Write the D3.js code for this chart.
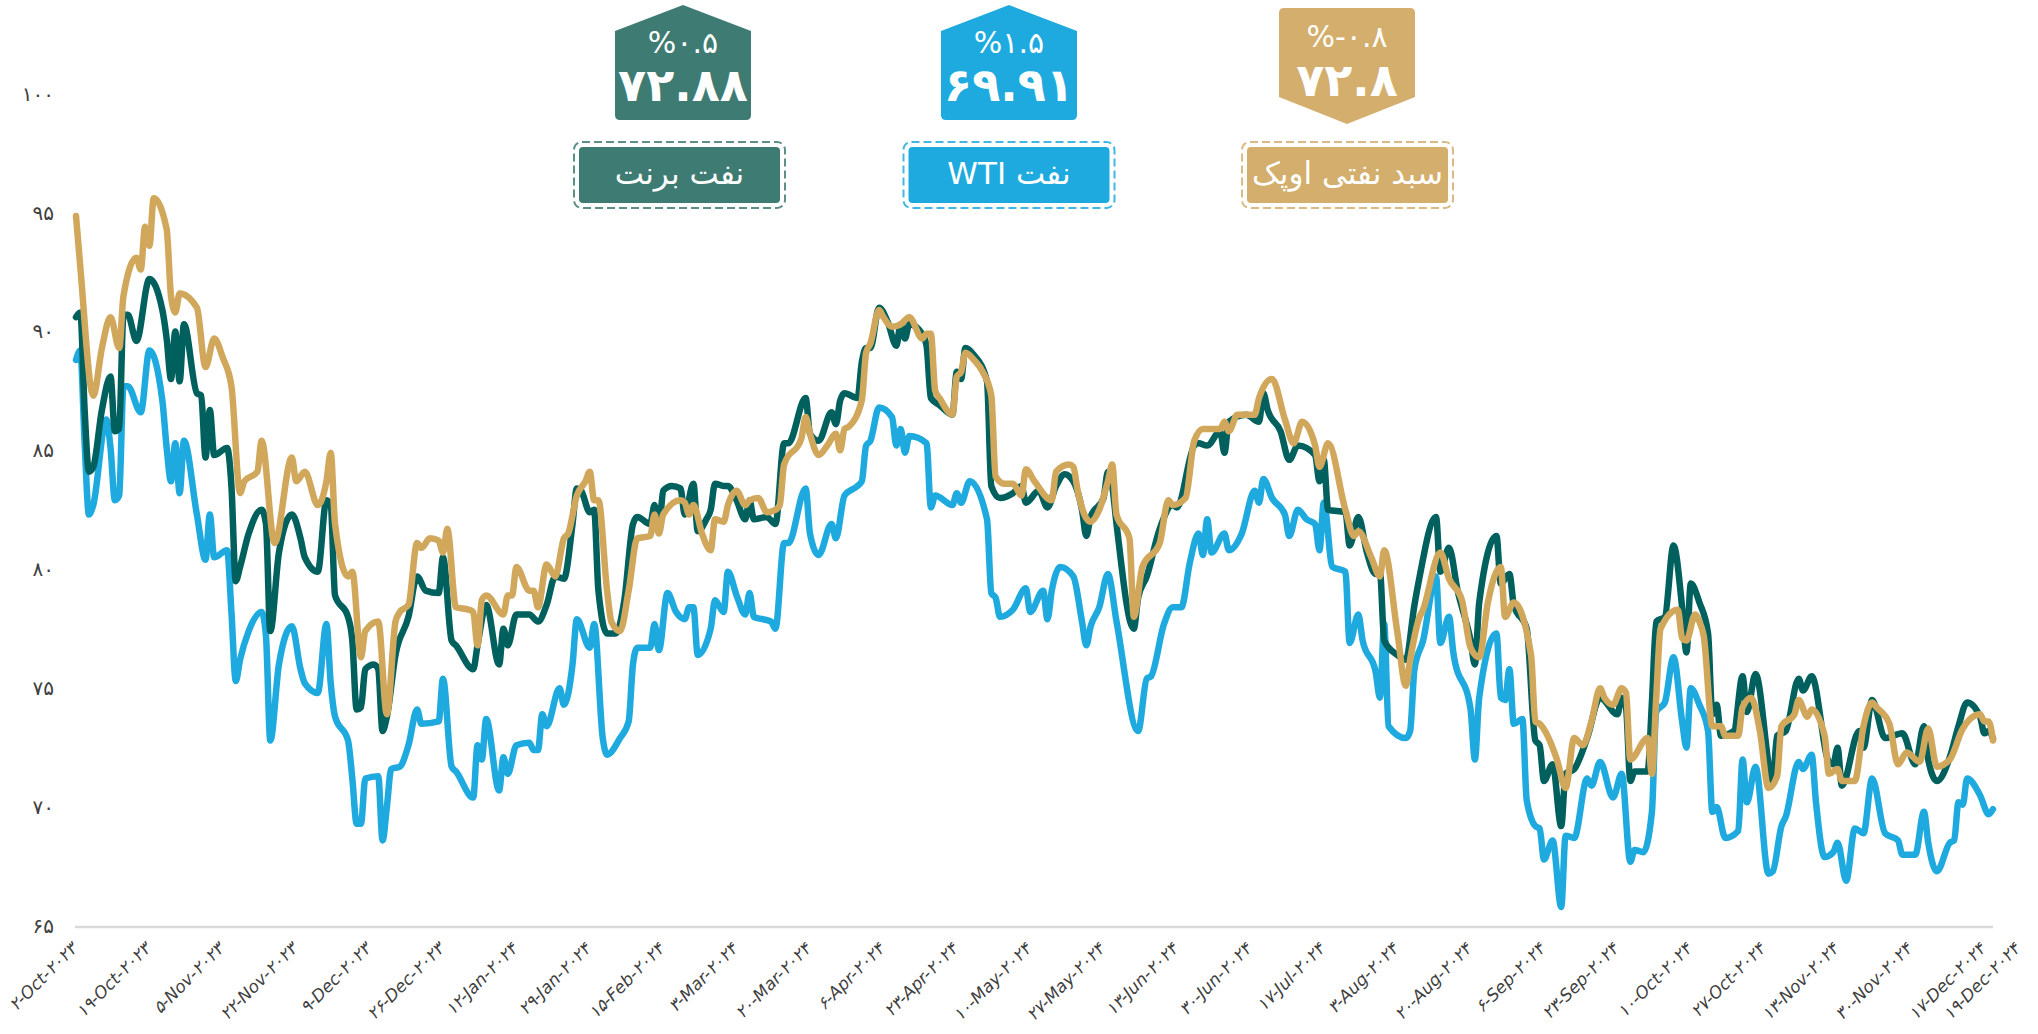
<!DOCTYPE html>
<html lang="fa">
<head>
<meta charset="utf-8">
<title>Oil prices</title>
<script src="https://cdn.jsdelivr.net/npm/d3@7"></script>
<style>
  html, body { margin: 0; padding: 0; background: #fff; }
  svg { display: block; font-family: 'DejaVu Sans', sans-serif; }
</style>
</head>
<body>
<div id="chart"></div>
<script>
(function(d3) {
  'use strict';

  // daily prices, [date, price]
  var brent = [
    ["2023-10-02",90.6],["2023-10-03",90.8],["2023-10-04",86.7],["2023-10-05",84.1],["2023-10-06",84.3],["2023-10-08",86.7],["2023-10-10",88.1],["2023-10-11",85.8],["2023-10-12",85.9],["2023-10-13",90.7],["2023-10-14",90.7],["2023-10-16",89.6],["2023-10-19",92.2],["2023-10-22",90.9],["2023-10-23",89.7],["2023-10-24",88.0],["2023-10-25",90.0],["2023-10-26",87.9],["2023-10-27",90.3],["2023-10-30",87.4],["2023-10-31",87.3],
    ["2023-11-01",84.7],["2023-11-02",86.7],["2023-11-03",84.8],["2023-11-06",85.1],["2023-11-07",83.5],["2023-11-08",79.5],["2023-11-09",80.1],["2023-11-11",81.5],["2023-11-14",82.5],["2023-11-15",81.9],["2023-11-16",77.4],["2023-11-18",80.7],["2023-11-21",82.3],["2023-11-23",81.3],["2023-11-24",80.5],["2023-11-27",79.9],["2023-11-29",82.9],["2023-11-30",82.7],
    ["2023-12-01",78.9],["2023-12-04",78.0],["2023-12-05",77.0],["2023-12-06",74.1],["2023-12-07",74.2],["2023-12-08",75.8],["2023-12-10",76.0],["2023-12-11",75.8],["2023-12-12",73.2],["2023-12-13",73.8],["2023-12-15",76.4],["2023-12-18",78.0],["2023-12-20",79.7],["2023-12-22",79.1],["2023-12-25",79.0],["2023-12-26",80.5],["2023-12-28",77.0],["2023-12-29",76.8],
    ["2024-01-02",75.8],["2024-01-03",76.8],["2024-01-05",78.5],["2024-01-08",76.0],["2024-01-09",77.5],["2024-01-10",76.8],["2024-01-12",78.1],["2024-01-15",78.1],["2024-01-17",77.8],["2024-01-19",78.5],["2024-01-21",79.7],["2024-01-23",79.6],["2024-01-25",81.9],["2024-01-26",83.4],["2024-01-27",83.3],["2024-01-29",82.4],["2024-01-30",82.5],["2024-01-31",79.1],
    ["2024-02-02",77.3],["2024-02-04",77.3],["2024-02-06",78.7],["2024-02-08",81.9],["2024-02-09",82.2],["2024-02-12",81.9],["2024-02-13",82.7],["2024-02-14",81.6],["2024-02-15",83.3],["2024-02-17",83.5],["2024-02-19",83.4],["2024-02-20",82.3],["2024-02-22",83.6],["2024-02-23",81.6],["2024-02-25",82.1],["2024-02-26",82.5],["2024-02-27",83.6],["2024-02-29",83.5],
    ["2024-03-01",83.5],["2024-03-03",82.9],["2024-03-05",82.1],["2024-03-06",82.9],["2024-03-07",82.1],["2024-03-10",82.2],["2024-03-12",81.9],["2024-03-14",85.3],["2024-03-15",85.3],["2024-03-19",87.2],["2024-03-20",85.7],["2024-03-22",85.4],["2024-03-25",86.6],["2024-03-26",86.1],["2024-03-27",87.1],["2024-03-28",87.4],["2024-03-31",87.2],
    ["2024-04-01",88.7],["2024-04-02",89.3],["2024-04-03",89.3],["2024-04-05",91.0],["2024-04-07",90.4],["2024-04-09",89.4],["2024-04-10",90.3],["2024-04-11",89.7],["2024-04-12",90.3],["2024-04-15",89.9],["2024-04-16",89.4],["2024-04-17",87.2],["2024-04-19",86.9],["2024-04-22",86.5],["2024-04-23",88.3],["2024-04-24",88.0],["2024-04-25",89.3],["2024-04-27",89.0],["2024-04-30",87.9],
    ["2024-05-01",83.5],["2024-05-03",83.0],["2024-05-06",83.2],["2024-05-08",83.5],["2024-05-09",82.8],["2024-05-12",83.3],["2024-05-14",82.6],["2024-05-16",83.5],["2024-05-18",84.0],["2024-05-20",83.7],["2024-05-22",82.5],["2024-05-23",81.4],["2024-05-24",82.2],["2024-05-27",83.0],["2024-05-28",84.1],["2024-05-29",83.5],["2024-05-30",81.9],
    ["2024-06-03",77.5],["2024-06-04",78.8],["2024-06-06",79.7],["2024-06-09",81.7],["2024-06-12",82.7],["2024-06-13",82.6],["2024-06-17",85.2],["2024-06-18",85.3],["2024-06-20",85.2],["2024-06-23",85.8],["2024-06-24",84.9],["2024-06-25",86.2],["2024-06-29",86.5],
    ["2024-07-02",86.2],["2024-07-03",87.4],["2024-07-04",86.7],["2024-07-07",85.8],["2024-07-09",84.6],["2024-07-11",85.2],["2024-07-15",84.8],["2024-07-16",83.7],["2024-07-17",84.6],["2024-07-18",82.5],["2024-07-22",82.4],["2024-07-23",81.0],["2024-07-25",82.2],["2024-07-27",80.7],["2024-07-29",79.8],["2024-07-30",79.9],["2024-07-31",77.0],
    ["2024-08-03",76.4],["2024-08-05",76.2],["2024-08-07",78.5],["2024-08-08",79.5],["2024-08-12",82.2],["2024-08-13",79.9],["2024-08-15",80.9],["2024-08-17",79.1],["2024-08-20",77.0],["2024-08-21",76.0],["2024-08-22",78.6],["2024-08-26",81.4],["2024-08-27",79.4],["2024-08-29",79.8],["2024-08-30",78.5],
    ["2024-09-02",77.5],["2024-09-04",72.8],["2024-09-05",72.6],["2024-09-06",71.1],["2024-09-08",71.8],["2024-09-10",69.2],["2024-09-11",71.4],["2024-09-13",71.6],["2024-09-16",72.9],["2024-09-19",74.6],["2024-09-23",73.9],["2024-09-24",74.6],["2024-09-25",74.2],["2024-09-26",71.1],["2024-09-27",71.5],["2024-09-30",71.5],
    ["2024-10-01",74.4],["2024-10-02",77.8],["2024-10-04",78.0],["2024-10-06",81.0],["2024-10-08",78.4],["2024-10-09",76.5],["2024-10-10",79.4],["2024-10-12",78.6],["2024-10-14",77.3],["2024-10-15",73.9],["2024-10-16",74.3],["2024-10-17",73.0],["2024-10-20",73.2],["2024-10-22",75.5],["2024-10-23",74.0],["2024-10-25",75.6],["2024-10-29",71.1],["2024-10-30",73.0],
    ["2024-11-01",73.2],["2024-11-04",75.4],["2024-11-05",74.9],["2024-11-07",75.5],["2024-11-11",71.9],["2024-11-12",71.8],["2024-11-13",72.5],["2024-11-14",70.9],["2024-11-18",73.2],["2024-11-19",72.5],["2024-11-21",74.5],["2024-11-24",72.9],["2024-11-28",73.1],
    ["2024-12-01",71.8],["2024-12-03",73.4],["2024-12-04",72.0],["2024-12-06",71.1],["2024-12-09",72.1],["2024-12-11",73.4],["2024-12-13",74.4],["2024-12-16",73.8],["2024-12-17",73.1],["2024-12-18",73.2],["2024-12-19",72.88]
  ];

  var wti = [
    ["2023-10-02",88.8],["2023-10-03",89.2],["2023-10-04",85.3],["2023-10-05",82.3],["2023-10-06",82.7],["2023-10-09",86.3],["2023-10-10",85.1],["2023-10-11",82.9],["2023-10-12",83.1],["2023-10-13",87.7],["2023-10-14",87.7],["2023-10-17",86.6],["2023-10-19",89.2],["2023-10-22",87.1],["2023-10-23",85.1],["2023-10-24",83.7],["2023-10-25",85.3],["2023-10-26",83.2],["2023-10-27",85.4],["2023-10-30",82.3],
    ["2023-11-01",80.4],["2023-11-02",82.3],["2023-11-03",80.5],["2023-11-06",80.8],["2023-11-07",78.2],["2023-11-08",75.3],["2023-11-09",76.2],["2023-11-11",77.4],["2023-11-14",78.2],["2023-11-15",77.2],["2023-11-16",72.8],["2023-11-18",76.0],["2023-11-21",77.6],["2023-11-23",75.8],["2023-11-24",75.2],["2023-11-27",74.8],["2023-11-29",77.7],["2023-11-30",75.2],
    ["2023-12-01",73.8],["2023-12-04",72.8],["2023-12-05",71.2],["2023-12-06",69.3],["2023-12-07",69.3],["2023-12-08",71.2],["2023-12-11",71.3],["2023-12-12",68.6],["2023-12-13",70.0],["2023-12-14",71.6],["2023-12-16",71.7],["2023-12-18",72.6],["2023-12-20",74.1],["2023-12-21",73.5],["2023-12-25",73.6],["2023-12-26",75.4],["2023-12-28",71.7],["2023-12-29",71.5],
    ["2024-01-02",70.4],["2024-01-03",72.6],["2024-01-04",72.0],["2024-01-05",73.7],["2024-01-08",70.7],["2024-01-09",72.1],["2024-01-10",71.4],["2024-01-12",72.6],["2024-01-15",72.7],["2024-01-16",72.4],["2024-01-17",72.4],["2024-01-18",73.9],["2024-01-19",73.4],["2024-01-22",75.0],["2024-01-23",74.3],["2024-01-25",76.0],["2024-01-26",77.9],["2024-01-29",76.7],["2024-01-30",77.7],
    ["2024-02-01",72.9],["2024-02-02",72.2],["2024-02-05",72.9],["2024-02-07",73.6],["2024-02-08",76.0],["2024-02-09",76.7],["2024-02-12",76.7],["2024-02-13",77.7],["2024-02-14",76.6],["2024-02-16",79.0],["2024-02-18",78.2],["2024-02-20",77.9],["2024-02-21",78.4],["2024-02-22",78.4],["2024-02-23",76.4],["2024-02-26",77.5],["2024-02-27",78.7],["2024-02-29",78.2],
    ["2024-03-01",79.9],["2024-03-03",78.9],["2024-03-05",78.1],["2024-03-06",79.0],["2024-03-07",78.0],["2024-03-09",77.9],["2024-03-11",77.8],["2024-03-12",77.5],["2024-03-14",81.1],["2024-03-15",81.1],["2024-03-19",83.4],["2024-03-20",81.5],["2024-03-22",80.6],["2024-03-25",81.9],["2024-03-26",81.3],["2024-03-28",83.1],["2024-03-31",83.5],
    ["2024-04-01",83.7],["2024-04-02",85.2],["2024-04-03",85.4],["2024-04-05",86.8],["2024-04-08",86.4],["2024-04-09",85.2],["2024-04-10",85.9],["2024-04-11",84.9],["2024-04-12",85.6],["2024-04-16",85.3],["2024-04-17",82.6],["2024-04-18",83.1],["2024-04-22",82.7],["2024-04-23",83.2],["2024-04-24",82.8],["2024-04-26",83.7],["2024-04-30",82.1],
    ["2024-05-01",79.0],["2024-05-02",78.8],["2024-05-03",78.0],["2024-05-06",78.3],["2024-05-09",79.2],["2024-05-10",78.2],["2024-05-13",79.1],["2024-05-14",77.9],["2024-05-15",79.1],["2024-05-17",80.1],["2024-05-20",79.7],["2024-05-22",77.8],["2024-05-23",76.8],["2024-05-24",77.6],["2024-05-26",78.4],["2024-05-28",79.8],["2024-05-30",77.8],
    ["2024-06-04",73.2],["2024-06-06",75.4],["2024-06-07",75.5],["2024-06-10",77.7],["2024-06-12",78.4],["2024-06-14",78.4],["2024-06-16",80.3],["2024-06-18",81.5],["2024-06-19",80.6],["2024-06-20",82.1],["2024-06-21",80.7],["2024-06-24",81.5],["2024-06-25",80.8],["2024-06-28",81.5],
    ["2024-07-01",83.3],["2024-07-02",82.8],["2024-07-03",83.8],["2024-07-05",83.0],["2024-07-08",82.3],["2024-07-09",81.4],["2024-07-11",82.5],["2024-07-13",82.1],["2024-07-15",81.9],["2024-07-16",80.8],["2024-07-17",82.8],["2024-07-19",80.1],["2024-07-22",79.9],["2024-07-23",76.9],["2024-07-25",78.1],["2024-07-26",77.0],["2024-07-29",75.7],["2024-07-30",74.6],["2024-07-31",77.7],
    ["2024-08-01",73.4],["2024-08-05",72.9],["2024-08-06",73.2],["2024-08-07",75.8],["2024-08-09",77.0],["2024-08-12",79.7],["2024-08-13",76.9],["2024-08-15",78.0],["2024-08-16",76.5],["2024-08-20",74.1],["2024-08-21",72.0],["2024-08-22",74.6],["2024-08-26",77.3],["2024-08-27",74.6],["2024-08-28",74.5],["2024-08-29",75.8],["2024-08-30",73.5],
    ["2024-09-01",73.7],["2024-09-02",70.3],["2024-09-04",69.2],["2024-09-05",69.1],["2024-09-06",67.8],["2024-09-08",68.6],["2024-09-10",65.8],["2024-09-11",68.8],["2024-09-13",68.7],["2024-09-16",71.2],["2024-09-17",70.9],["2024-09-19",71.9],["2024-09-22",70.4],["2024-09-24",71.4],["2024-09-26",67.7],["2024-09-27",68.2],["2024-09-29",68.1],
    ["2024-10-01",69.8],["2024-10-02",74.0],["2024-10-04",74.4],["2024-10-06",76.3],["2024-10-08",73.6],["2024-10-09",72.5],["2024-10-10",75.0],["2024-10-12",74.3],["2024-10-14",73.2],["2024-10-15",69.8],["2024-10-16",70.0],["2024-10-18",68.7],["2024-10-21",69.0],["2024-10-22",72.0],["2024-10-23",70.2],["2024-10-25",71.7],["2024-10-28",67.2],["2024-10-29",67.3],["2024-10-31",69.2],
    ["2024-11-01",69.6],["2024-11-04",71.9],["2024-11-05",71.6],["2024-11-07",72.2],["2024-11-08",70.2],["2024-11-10",67.9],["2024-11-12",68.1],["2024-11-13",68.5],["2024-11-15",66.9],["2024-11-17",69.1],["2024-11-19",68.9],["2024-11-21",71.2],["2024-11-24",68.9],["2024-11-27",68.6],["2024-11-28",68.0],
    ["2024-12-01",68.0],["2024-12-03",69.8],["2024-12-04",68.5],["2024-12-06",67.3],["2024-12-09",68.5],["2024-12-10",68.6],["2024-12-11",70.2],["2024-12-12",70.1],["2024-12-13",71.2],["2024-12-16",70.5],["2024-12-18",69.7],["2024-12-19",69.91]
  ];

  var opec = [
    ["2023-10-02",94.85],["2023-10-03",92.7],["2023-10-06",87.3],["2023-10-08",89.3],["2023-10-10",90.6],["2023-10-12",89.3],["2023-10-13",91.5],["2023-10-16",93.1],["2023-10-17",92.6],["2023-10-18",94.4],["2023-10-19",93.6],["2023-10-20",95.6],["2023-10-23",94.3],["2023-10-24",91.5],["2023-10-25",90.8],["2023-10-26",91.6],["2023-10-30",91.0],
    ["2023-11-01",88.5],["2023-11-03",89.7],["2023-11-05",88.9],["2023-11-07",87.7],["2023-11-09",83.2],["2023-11-10",83.7],["2023-11-13",84.1],["2023-11-14",85.4],["2023-11-17",81.1],["2023-11-21",84.7],["2023-11-22",83.7],["2023-11-24",84.1],["2023-11-27",82.7],["2023-11-29",83.7],["2023-11-30",84.9],
    ["2023-12-01",81.9],["2023-12-04",79.7],["2023-12-05",79.9],["2023-12-07",76.3],["2023-12-08",77.4],["2023-12-11",77.8],["2023-12-13",73.9],["2023-12-15",77.8],["2023-12-16",78.2],["2023-12-18",78.5],["2023-12-20",81.1],["2023-12-21",80.9],["2023-12-23",81.3],["2023-12-25",81.2],["2023-12-26",80.7],["2023-12-27",81.7],["2023-12-29",78.4],
    ["2024-01-01",78.3],["2024-01-02",78.2],["2024-01-03",76.8],["2024-01-04",78.7],["2024-01-05",78.9],["2024-01-09",78.1],["2024-01-10",78.9],["2024-01-11",78.9],["2024-01-12",80.1],["2024-01-15",79.1],["2024-01-16",79.1],["2024-01-17",78.4],["2024-01-19",80.2],["2024-01-21",79.7],["2024-01-23",81.3],["2024-01-24",81.5],["2024-01-26",83.1],["2024-01-28",83.7],["2024-01-29",84.1],["2024-01-30",82.9],["2024-01-31",82.9],
    ["2024-02-02",79.1],["2024-02-03",77.8],["2024-02-05",77.4],["2024-02-07",79.1],["2024-02-09",81.3],["2024-02-12",81.4],["2024-02-13",82.3],["2024-02-14",81.5],["2024-02-15",82.3],["2024-02-19",82.9],["2024-02-20",82.8],["2024-02-21",82.3],["2024-02-22",82.7],["2024-02-24",81.5],["2024-02-26",80.8],["2024-02-27",82.1],["2024-02-29",82.0],
    ["2024-03-01",82.7],["2024-03-03",83.3],["2024-03-05",82.7],["2024-03-06",82.9],["2024-03-08",83.0],["2024-03-10",82.4],["2024-03-12",82.5],["2024-03-13",82.7],["2024-03-14",84.4],["2024-03-18",85.5],["2024-03-19",86.4],["2024-03-20",85.7],["2024-03-22",84.8],["2024-03-24",85.2],["2024-03-26",85.7],["2024-03-27",85.0],["2024-03-28",85.9],["2024-03-29",86.0],
    ["2024-04-01",87.1],["2024-04-02",89.1],["2024-04-03",89.5],["2024-04-05",90.9],["2024-04-06",90.6],["2024-04-08",90.2],["2024-04-10",90.3],["2024-04-12",90.6],["2024-04-15",89.7],["2024-04-16",89.9],["2024-04-17",89.9],["2024-04-18",87.5],["2024-04-19",87.2],["2024-04-22",86.5],["2024-04-23",88.1],["2024-04-24",88.3],["2024-04-25",89.1],["2024-04-27",88.8],["2024-04-29",88.3],
    ["2024-05-01",87.3],["2024-05-02",83.9],["2024-05-04",83.6],["2024-05-06",83.6],["2024-05-08",83.1],["2024-05-09",84.2],["2024-05-11",83.7],["2024-05-15",82.9],["2024-05-16",84.1],["2024-05-19",84.4],["2024-05-20",84.3],["2024-05-21",83.3],["2024-05-24",82.0],["2024-05-26",82.5],["2024-05-28",83.7],["2024-05-29",84.4],["2024-05-30",82.3],
    ["2024-06-02",81.3],["2024-06-03",78.0],["2024-06-05",80.1],["2024-06-09",81.1],["2024-06-11",82.9],["2024-06-12",82.7],["2024-06-15",83.0],["2024-06-17",85.4],["2024-06-19",85.9],["2024-06-23",85.9],["2024-06-24",86.2],["2024-06-25",85.8],["2024-06-27",86.5],
    ["2024-07-01",86.5],["2024-07-02",87.2],["2024-07-05",88.0],["2024-07-08",86.3],["2024-07-10",85.3],["2024-07-12",86.2],["2024-07-15",85.2],["2024-07-16",84.3],["2024-07-18",85.3],["2024-07-22",82.5],["2024-07-24",81.4],["2024-07-25",81.6],["2024-07-28",80.5],["2024-07-30",79.7],["2024-07-31",80.8],
    ["2024-08-03",77.4],["2024-08-05",75.1],["2024-08-06",76.2],["2024-08-08",77.9],["2024-08-09",78.3],["2024-08-13",80.7],["2024-08-15",79.6],["2024-08-18",78.7],["2024-08-20",76.7],["2024-08-22",76.3],["2024-08-24",78.6],["2024-08-27",80.1],["2024-08-28",78.0],["2024-08-30",78.6],
    ["2024-09-03",76.4],["2024-09-04",73.6],["2024-09-05",73.5],["2024-09-09",72.0],["2024-09-11",70.8],["2024-09-13",72.9],["2024-09-15",72.6],["2024-09-17",73.6],["2024-09-19",75.0],["2024-09-20",74.6],["2024-09-22",74.3],["2024-09-24",75.0],["2024-09-25",74.8],["2024-09-26",72.0],["2024-09-30",72.9],
    ["2024-10-01",71.4],["2024-10-02",74.6],["2024-10-03",77.5],["2024-10-07",78.3],["2024-10-08",77.1],["2024-10-09",77.0],["2024-10-11",78.1],["2024-10-12",77.8],["2024-10-13",77.2],["2024-10-15",73.4],["2024-10-17",73.4],["2024-10-18",73.0],["2024-10-21",73.0],["2024-10-22",74.2],["2024-10-24",74.6],["2024-10-26",73.2],["2024-10-28",70.8],["2024-10-30",71.3],["2024-10-31",73.4],
    ["2024-11-03",73.9],["2024-11-04",74.5],["2024-11-06",73.8],["2024-11-07",74.1],["2024-11-10",73.0],["2024-11-11",71.4],["2024-11-13",71.6],["2024-11-14",71.1],["2024-11-17",71.1],["2024-11-19",73.4],["2024-11-21",74.4],["2024-11-22",74.2],["2024-11-25",73.5],["2024-11-27",71.8],["2024-11-29",72.3],
    ["2024-12-02",71.9],["2024-12-04",73.3],["2024-12-06",71.7],["2024-12-09",72.0],["2024-12-12",73.3],["2024-12-16",73.9],["2024-12-17",73.6],["2024-12-18",73.6],["2024-12-19",72.8]
  ];

  var seriesNames = ['نفت برنت', 'نفت WTI', 'سبد نفتی اوپک'];
  var lastPrices = [72.88, 69.91, 72.8];
  var changes = [0.5, 1.5, -0.8];

  var yTicks = [65, 70, 75, 80, 85, 90, 95, 100];
  var xTicks = [
    '2023-10-02', '2023-10-19', '2023-11-05', '2023-11-22', '2023-12-09', '2023-12-26',
    '2024-01-12', '2024-01-29', '2024-02-15', '2024-03-03', '2024-03-20', '2024-04-06',
    '2024-04-23', '2024-05-10', '2024-05-27', '2024-06-13', '2024-06-30', '2024-07-17',
    '2024-08-03', '2024-08-20', '2024-09-06', '2024-09-23', '2024-10-10', '2024-10-27',
    '2024-11-13', '2024-11-30', '2024-12-17', '2024-12-19'
  ];

  var lineColors = ['#00605e', '#1eaadf', '#d1a85b'];
  var badgeColors = ['#3e7b72', '#1eaadf', '#d4ae6c'];

  var width = 2038;
  var height = 1034;

  var parse = d3.utcParse('%Y-%m-%d');
  var fmtDate = d3.utcFormat('%-d-%b-%Y');

  function toFa(s) {
    return String(s).replace(/\d/g, function(c) { return '۰۱۲۳۴۵۶۷۸۹'[+c]; });
  }

  var x = d3.scaleUtc()
    .domain([parse('2023-10-02'), parse('2024-12-19')])
    .range([76, 1993]);

  var y = d3.scaleLinear()
    .domain([65, 100])
    .range([926, 93.6]);

  var svg = d3.select('#chart')
    .append('svg')
    .attr('width', width)
    .attr('height', height);

  svg.append('rect')
    .attr('width', width)
    .attr('height', height)
    .attr('fill', '#fff');

  // baseline
  svg.append('line')
    .attr('x1', x.range()[0] - 1)
    .attr('x2', x.range()[1])
    .attr('y1', y(65) + 1)
    .attr('y2', y(65) + 1)
    .attr('stroke', '#d9d9d9')
    .attr('stroke-width', 2.5);

  // y labels
  svg.append('g')
    .selectAll('text')
    .data(yTicks)
    .enter()
    .append('text')
    .attr('x', 54)
    .attr('y', function(d) { return y(d); })
    .attr('dy', '0.35em')
    .attr('text-anchor', 'end')
    .attr('font-size', 20)
    .attr('fill', '#404040')
    .text(function(d) { return toFa(d); });

  // x labels, rotated
  svg.append('g')
    .selectAll('text')
    .data(xTicks)
    .enter()
    .append('text')
    .attr('transform', function(d, i) {
      var nudge = i === xTicks.length - 1 ? 26 : 0;
      return 'translate(' + (x(parse(d)) + 2 + nudge) + ',' + 950 + ') rotate(-45)';
    })
    .attr('text-anchor', 'end')
    .attr('font-size', 17)
    .attr('font-style', 'italic')
    .attr('fill', '#404040')
    .text(function(d) { return toFa(fmtDate(parse(d))); });

  var line = d3.line()
    .x(function(d) { return x(parse(d[0])); })
    .y(function(d) { return y(d[1]); })
    .curve(d3.curveMonotoneX);

  // draw order: WTI, Brent, OPEC on top
  var drawOrder = [[wti, 1], [brent, 0], [opec, 2]];
  svg.append('g')
    .selectAll('path')
    .data(drawOrder)
    .enter()
    .append('path')
    .attr('d', function(d) { return line(d[0]); })
    .attr('fill', 'none')
    .attr('stroke', function(d) { return lineColors[d[1]]; })
    .attr('stroke-width', 6.5)
    .attr('stroke-linejoin', 'round')
    .attr('stroke-linecap', 'round');

  // price badges
  var badgeX = [683, 1009, 1347];
  var labelX = [679.5, 1009, 1347.5];
  var bw = 136;

  function badgePath(cx, up) {
    var l = cx - bw / 2, r = cx + bw / 2, rad = 5;
    var p = d3.path();
    if (up) {
      p.moveTo(l, 31);
      p.lineTo(cx, 5);
      p.lineTo(r, 31);
      p.lineTo(r, 120 - rad);
      p.quadraticCurveTo(r, 120, r - rad, 120);
      p.lineTo(l + rad, 120);
      p.quadraticCurveTo(l, 120, l, 120 - rad);
      p.closePath();
    } else {
      p.moveTo(l, 8 + rad);
      p.quadraticCurveTo(l, 8, l + rad, 8);
      p.lineTo(r - rad, 8);
      p.quadraticCurveTo(r, 8, r, 8 + rad);
      p.lineTo(r, 97);
      p.lineTo(cx, 124);
      p.lineTo(l, 97);
      p.closePath();
    }
    return p.toString();
  }

  seriesNames.forEach(function(name, i) {
    var up = changes[i] >= 0;
    var g = svg.append('g');
    g.append('path')
      .attr('d', badgePath(badgeX[i], up))
      .attr('fill', badgeColors[i]);
    g.append('text')
      .attr('x', badgeX[i])
      .attr('y', up ? 53 : 47)
      .attr('text-anchor', 'middle')
      .attr('font-size', 30)
      .attr('fill', '#fff')
      .text('%' + toFa(changes[i]));
    g.append('text')
      .attr('x', badgeX[i])
      .attr('y', up ? 101 : 96)
      .attr('text-anchor', 'middle')
      .attr('font-size', 46)
      .attr('font-weight', 'bold')
      .attr('fill', '#fff')
      .text(toFa(lastPrices[i]));

    // name box
    g.append('rect')
      .attr('x', labelX[i] - 105.5)
      .attr('y', 142)
      .attr('width', 211)
      .attr('height', 66)
      .attr('rx', 8)
      .attr('fill', 'none')
      .attr('stroke', badgeColors[i])
      .attr('stroke-width', 2)
      .attr('stroke-dasharray', '8,4')
      .attr('opacity', 0.85);
    g.append('rect')
      .attr('x', labelX[i] - 100.5)
      .attr('y', 147)
      .attr('width', 201)
      .attr('height', 56)
      .attr('rx', 4)
      .attr('fill', badgeColors[i]);
    g.append('text')
      .attr('x', labelX[i])
      .attr('y', 173)
      .attr('dy', '0.35em')
      .attr('text-anchor', 'middle')
      .attr('direction', 'rtl')
      .attr('font-size', 31)
      .attr('fill', '#fff')
      .text(name);
  });

})(window.d3);
</script>
</body>
</html>
